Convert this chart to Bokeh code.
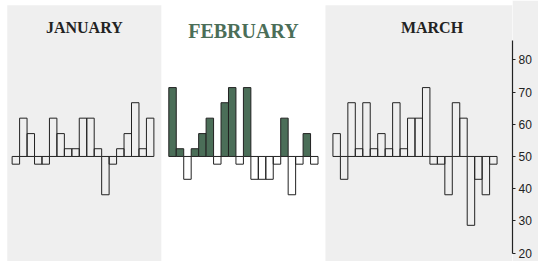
from bokeh.plotting import figure
from bokeh.models import ColumnDataSource, BoxAnnotation, LinearAxis, FixedTicker, Label, Range1d
from bokeh.embed import file_html
from bokeh.resources import INLINE

months = ["JANUARY", "FEBRUARY", "MARCH"]
jan = [47.6, 61.9, 57.1, 47.6, 47.6, 61.9, 57.1, 52.4, 52.4, 61.9, 61.9, 52.4, 38.1, 47.6, 52.4, 57.1, 66.7, 52.4, 61.9]
feb = [71.4, 52.4, 42.9, 52.4, 57.1, 61.9, 47.6, 66.7, 71.4, 47.6, 71.4, 42.9, 42.9, 42.9, 47.6, 61.9, 38.1, 47.6, 57.1, 47.6]
mar = [57.1, 42.9, 66.7, 52.4, 66.7, 52.4, 57.1, 52.4, 66.7, 52.4, 61.9, 61.9, 71.4, 47.6, 47.6, 38.1, 66.7, 61.9, 28.6, 42.9, 38.1, 47.6]
baseline = 50
ticks = [20, 30, 40, 50, 60, 70, 80]

GAP = 2
GREY = "#efefef"
GREEN = "#4b6e58"
INK = "#222222"

W, H = 538, 261
RIGHT_BORDER = 26
X0, X1 = -1.56, 67.07
Y0, Y1 = 17.36, 98.46

series = [jan, feb, mar]
offsets = []
o = 0
for s in series:
    offsets.append(o)
    o += len(s) + GAP
total = o - GAP

xs, tops, bottoms, fills = [], [], [], []
for mi, (s, off) in enumerate(zip(series, offsets)):
    for i, v in enumerate(s):
        xs.append(off + i + 0.5)
        tops.append(max(v, baseline))
        bottoms.append(min(v, baseline))
        fills.append(GREEN if (mi == 1 and v > baseline) else None)

src = ColumnDataSource(dict(x=xs, top=tops, bottom=bottoms, fill=fills))

p = figure(width=W, height=H, output_backend="svg", toolbar_location=None,
           x_range=Range1d(X0, X1), y_range=Range1d(Y0, Y1),
           min_border_left=0, min_border_top=0, min_border_bottom=0, min_border_right=RIGHT_BORDER)
p.xaxis.visible = False
p.yaxis.visible = False
p.xgrid.visible = False
p.ygrid.visible = False
p.outline_line_color = None
p.background_fill_color = "white"
p.border_fill_color = GREY

px_per_x = (W - RIGHT_BORDER) / (X1 - X0)
x_fig_end = X1 + RIGHT_BORDER / px_per_x

# month panels: boundaries at the middle of the gaps
b1 = offsets[1] - GAP / 2
b2 = offsets[2] - GAP / 2
left0 = -0.65
panel_top = 97.0
p.add_layout(BoxAnnotation(left=left0, right=b1, top=panel_top, fill_color=GREY, fill_alpha=1,
                           line_color=None, level="underlay"))
p.add_layout(BoxAnnotation(left=b2, top=panel_top, fill_color=GREY, fill_alpha=1,
                           line_color=None, level="underlay"))

p.vbar(x="x", top="top", bottom="bottom", width=1, source=src,
       fill_color="fill", line_color=INK, line_width=1)

# titles
centers = [(left0 + b1) / 2, (b1 + b2) / 2, (b2 + x_fig_end) / 2]
sizes = ["16px", "20px", "16px"]
colors = [INK, GREEN, INK]
baselines_px = [26.7, 30.0, 26.7]
for name, cx, sz, col, bp in zip(months, centers, sizes, colors, baselines_px):
    p.add_layout(Label(x=cx, y=Y1, y_offset=-bp, text=name, text_align="center",
                       text_baseline="alphabetic",
                       text_font="Liberation Serif", text_font_style="bold", text_font_size=sz,
                       text_color=col))

ax = LinearAxis(ticker=FixedTicker(ticks=ticks), bounds=(20, 86))
ax.axis_line_color = INK
ax.axis_line_width = 1.2
ax.major_tick_line_color = INK
ax.major_tick_out = 3
ax.major_tick_in = 0
ax.minor_tick_line_color = None
ax.major_label_standoff = 3
ax.major_label_text_font = "Liberation Sans"
ax.major_label_text_font_size = "12px"
ax.major_label_text_color = "#222222"
p.add_layout(ax, "right")

open("out.html", "w").write(file_html(p, INLINE))
